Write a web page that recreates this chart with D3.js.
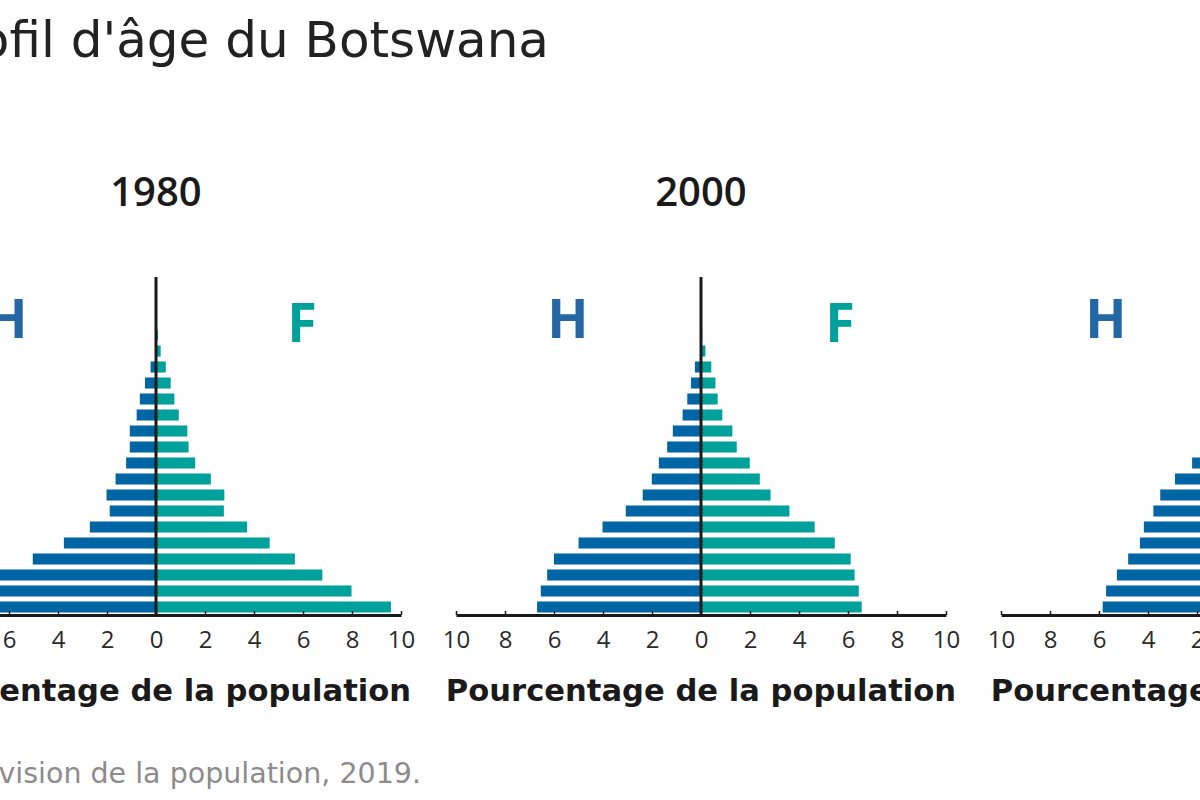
<!DOCTYPE html>
<html>
<head>
<meta charset="utf-8">
<script src="https://cdnjs.cloudflare.com/ajax/libs/d3/7.8.5/d3.min.js"></script>
<style>
  html, body { margin: 0; padding: 0; background: #fff; overflow: hidden; }
  svg { display: block; }
</style>
</head>
<body>
<svg id="chart" width="1200" height="800"></svg>
<script>
/*
  Population pyramids - Botswana
*/

var ageGroups = ["0-4", "5-9", "10-14", "15-19", "20-24", "25-29", "30-34", "35-39", "40-44", "45-49",
                 "50-54", "55-59", "60-64", "65-69", "70-74", "75-79", "80-84", "85-89", "90-94", "95-99", "100+"];

var years = ["1980", "2000", "2020"];

// % of total population, per age group (youngest first)
var male1980   = [9.7, 8.0, 6.8, 5.03, 3.76, 2.70, 1.89, 2.02, 1.65, 1.22, 1.07, 1.07, 0.79, 0.66, 0.45, 0.22, 0.03, 0, 0, 0, 0];
var female1980 = [9.59, 7.98, 6.79, 5.67, 4.64, 3.72, 2.77, 2.79, 2.24, 1.60, 1.33, 1.28, 0.93, 0.75, 0.60, 0.40, 0.19, 0.08, 0, 0, 0];
var male2000   = [6.69, 6.54, 6.28, 6.00, 5.00, 4.02, 3.07, 2.38, 2.01, 1.72, 1.38, 1.15, 0.75, 0.56, 0.41, 0.25, 0.04, 0, 0, 0, 0];
var female2000 = [6.56, 6.44, 6.27, 6.11, 5.46, 4.64, 3.61, 2.84, 2.40, 1.99, 1.46, 1.28, 0.87, 0.68, 0.59, 0.42, 0.18, 0.05, 0, 0, 0];
var male2020   = [5.85, 5.71, 5.27, 4.81, 4.33, 4.17, 3.78, 3.50, 2.90, 2.20, 1.70, 1.35, 1.05, 0.80, 0.55, 0.35, 0.20, 0.08, 0.02, 0, 0];
var female2020 = [5.70, 5.60, 5.20, 4.80, 4.40, 4.30, 4.00, 3.70, 3.10, 2.45, 1.95, 1.60, 1.35, 1.05, 0.80, 0.55, 0.35, 0.18, 0.06, 0.01, 0];

var tickValues = [-10, -8, -6, -4, -2, 0, 2, 4, 6, 8, 10];

var titleText = "Profil d'âge du Botswana",
    axisTitleText = "Pourcentage de la population",
    sourceText = "Source : Nations Unies, Département des affaires économiques et sociales, Division de la population, 2019.",
    maleLabel = "H",
    femaleLabel = "F";

var panels = [
  {year: years[0], male: male1980, female: female1980},
  {year: years[1], male: male2000, female: female2000},
  {year: years[2], male: male2020, female: female2020}
];

// layout
var centers = [156, 701, 1246],
    hOffsets = [-149, -133, -140],
    fOffsets = [146, 139, 140],
    halfWidth = 245,
    plotTop = 279,
    plotBottom = 615;

var maleColor = "#0065a4",
    femaleColor = "#00a19a",
    maleLabelColor = "#2467a5";

var svg = d3.select("#chart");

//Title
svg.append("text")
  .attr("x", 549)
  .attr("y", 57)
  .attr("text-anchor", "end")
  .style("font-family", "'DejaVu Sans', sans-serif")
  .style("font-size", "50px")
  .style("fill", "#222")
  .text(titleText);

function drawPyramid(panel, i){
  var cx = centers[i];

  var x = d3.scaleLinear().domain([-10, 10]).range([cx - halfWidth, cx + halfWidth]);
  var y = d3.scaleBand().domain(ageGroups).range([plotBottom, plotTop]).paddingInner(0.31).paddingOuter(0.155);

  var g = svg.append("g").attr("class", "pyramid");

  //Year
  g.append("text")
    .attr("x", cx)
    .attr("y", 206)
    .attr("text-anchor", "middle")
    .style("font-family", "'Open Sans', sans-serif")
    .style("font-weight", "600")
    .style("font-size", "40px")
    .style("fill", "#1a1a1a")
    .text(panel.year);

  //H / F
  g.append("text")
    .attr("x", cx + hOffsets[i])
    .attr("y", 338)
    .attr("text-anchor", "middle")
    .style("font-family", "'Open Sans', sans-serif")
    .style("font-weight", "bold")
    .style("font-size", "54px")
    .style("fill", maleLabelColor)
    .text(maleLabel);

  g.append("text")
    .attr("x", cx + fOffsets[i])
    .attr("y", 342)
    .attr("text-anchor", "middle")
    .style("font-family", "'Open Sans', sans-serif")
    .style("font-weight", "bold")
    .style("font-size", "54px")
    .style("fill", femaleColor)
    .text(femaleLabel);

  //Bars
  g.selectAll(".bar-m")
    .data(panel.male)
    .enter().append("rect")
      .attr("class", "bar-m")
      .attr("x", function(d) { return x(-d); })
      .attr("y", function(d, j) { return y(ageGroups[j]); })
      .attr("width", function(d) { return x(0) - x(-d); })
      .attr("height", y.bandwidth())
      .style("fill", maleColor);

  g.selectAll(".bar-f")
    .data(panel.female)
    .enter().append("rect")
      .attr("class", "bar-f")
      .attr("x", x(0))
      .attr("y", function(d, j) { return y(ageGroups[j]); })
      .attr("width", function(d) { return x(d) - x(0); })
      .attr("height", y.bandwidth())
      .style("fill", femaleColor);

  //Axis
  var axis = g.append("g")
    .attr("class", "xAxis")
    .attr("transform", "translate(0," + plotBottom + ")")
    .call(d3.axisBottom(x)
      .tickValues(tickValues)
      .tickFormat(function(d) { return Math.abs(d); })
      .tickSizeInner(-4)
      .tickSizeOuter(0));

  axis.select(".domain")
    .attr("stroke", "#1a1a1a")
    .attr("stroke-width", 3);

  axis.selectAll(".tick line")
    .attr("stroke", "#1a1a1a")
    .attr("stroke-width", 1.5);

  axis.selectAll(".tick text")
    .attr("y", 33)
    .attr("dy", 0)
    .style("font-family", "'Open Sans', sans-serif")
    .style("font-size", "24px")
    .style("fill", "#2a2a2a");

  //Zero line
  g.append("line")
    .attr("x1", x(0))
    .attr("x2", x(0))
    .attr("y1", plotTop - 2)
    .attr("y2", plotBottom)
    .attr("stroke", "#1a1a1a")
    .attr("stroke-width", 3);

  //Axis title
  g.append("text")
    .attr("x", cx)
    .attr("y", 701)
    .attr("text-anchor", "middle")
    .style("font-family", "'DejaVu Sans', sans-serif")
    .style("font-weight", "bold")
    .style("font-size", "30.6px")
    .style("fill", "#1a1a1a")
    .text(axisTitleText);
}

panels.forEach(drawPyramid);

//Source
svg.append("text")
  .attr("x", 421)
  .attr("y", 783)
  .attr("text-anchor", "end")
  .style("font-family", "'DejaVu Sans', sans-serif")
  .style("font-size", "28.5px")
  .style("fill", "#8c8c8c")
  .text(sourceText);
</script>
</body>
</html>
